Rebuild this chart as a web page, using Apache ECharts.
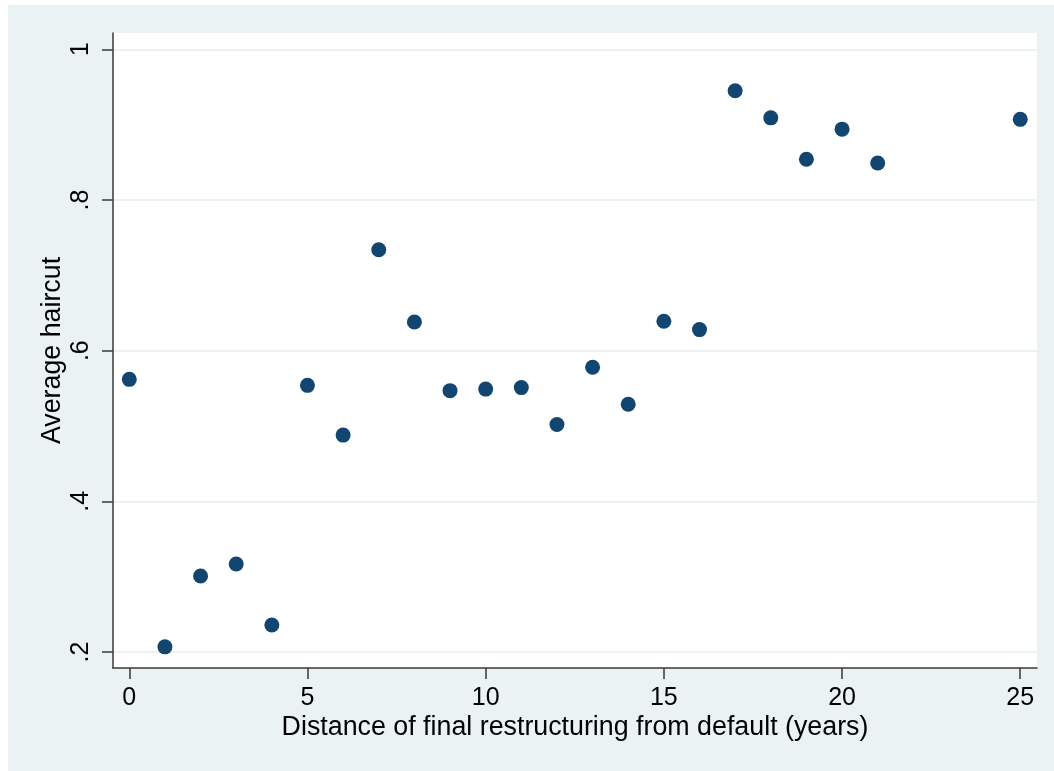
<!DOCTYPE html>
<html>
<head>
<meta charset="utf-8">
<script src="https://cdn.jsdelivr.net/npm/echarts@6/dist/echarts.min.js"></script>
<style>
  html, body { margin: 0; padding: 0; background: #ffffff; width: 1054px; height: 771px; overflow: hidden; }
  #chart { position: absolute; left: 8px; top: 5px; width: 1046px; height: 766px; }
</style>
</head>
<body>
<div id="chart"></div>
<script>
// Distance of final restructuring from default (years)
const years = [0, 1, 2, 3, 4, 5, 6, 7, 8, 9, 10, 11, 12, 13, 14, 15, 16, 17, 18, 19, 20, 21, 25];
// Average haircut
const haircut = [0.562, 0.207, 0.301, 0.317, 0.236, 0.554, 0.488, 0.734, 0.638, 0.547, 0.549, 0.551, 0.502, 0.578, 0.529, 0.639, 0.628, 0.945, 0.909, 0.854, 0.894, 0.849, 0.907];
const xTicks = [0, 5, 10, 15, 20, 25];
const yTicks = [0.2, 0.4, 0.6, 0.8, 1];
const yTickLabels = ['.2', '.4', '.6', '.8', '1'];

const font = '"Liberation Sans", Arial, Helvetica, sans-serif';
const chart = echarts.init(document.getElementById('chart'));
chart.setOption({
  backgroundColor: '#EAF2F3',
  animation: false,
  grid: {
    left: 105, top: 28, right: 17, bottom: 103,
    show: true, backgroundColor: '#ffffff', borderWidth: 0
  },
  xAxis: {
    type: 'value',
    min: -0.457, max: 25.47,
    name: 'Distance of final restructuring from default (years)',
    nameLocation: 'middle',
    nameGap: 46,
    nameMoveOverlap: false,
    nameTextStyle: { fontFamily: font, fontSize: 26.8, color: '#000' },
    axisLine: { show: true, onZero: false, lineStyle: { color: '#3a3a3a', width: 1.5 } },
    axisTick: { show: true, length: 11, customValues: xTicks, lineStyle: { color: '#3a3a3a', width: 1.5 } },
    axisLabel: { customValues: xTicks, fontFamily: font, fontSize: 25, color: '#000', margin: 18 },
    splitLine: { show: false }
  },
  yAxis: {
    type: 'value',
    min: 0.1789, max: 1.0216,
    name: 'Average haircut',
    nameLocation: 'middle',
    nameGap: 47,
    nameMoveOverlap: false,
    nameTextStyle: { fontFamily: font, fontSize: 26.8, color: '#000' },
    axisLine: { show: true, onZero: false, lineStyle: { color: '#3a3a3a', width: 1.5 } },
    axisTick: { show: true, length: 11, customValues: yTicks, lineStyle: { color: '#3a3a3a', width: 1.5 } },
    axisLabel: {
      customValues: yTicks, rotate: 90, fontFamily: font, fontSize: 25, color: '#000', margin: 19,
      formatter: function (v) {
        const i = yTicks.findIndex(t => Math.abs(t - v) < 1e-6);
        return i >= 0 ? yTickLabels[i] : '';
      }
    },
    splitLine: { show: true, lineStyle: { color: '#EAF2F3', width: 2 } }
  },
  series: [{
    type: 'scatter',
    data: years.map((x, i) => [x, haircut[i]]),
    symbol: 'circle',
    symbolSize: 15,
    itemStyle: { color: '#124671', opacity: 1 }
  }]
});
</script>
</body>
</html>
